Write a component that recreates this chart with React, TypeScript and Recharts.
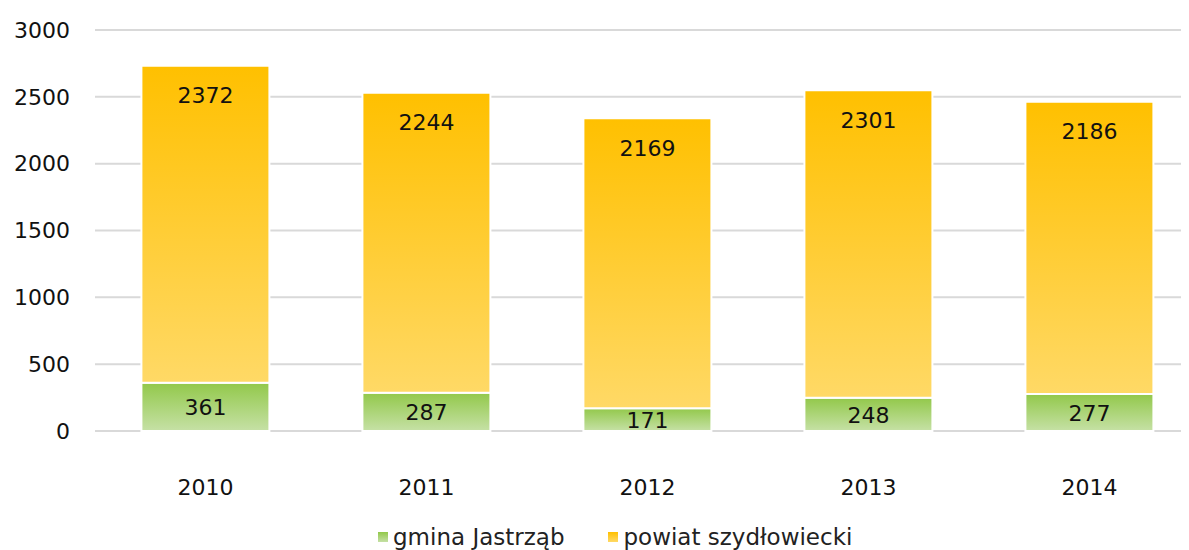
import React from "react";
import { BarChart, Bar, XAxis, YAxis, CartesianGrid, Legend, LabelList } from "recharts";

const years = ["2010", "2011", "2012", "2013", "2014"];
const gmina = [361, 287, 171, 248, 277];
const powiat = [2372, 2244, 2169, 2301, 2186];
const yTicks = [0, 500, 1000, 1500, 2000, 2500, 3000];
const seriesNames = ["gmina Jastrząb", "powiat szydłowiecki"];

const data = years.map((y, i) => ({ year: y, gmina: gmina[i], powiat: powiat[i] }));

const FONT = "'DejaVu Sans', sans-serif";
const FS = 22;

const GreenLabel = (props: any) => {
  const { x, y, width, height, value } = props;
  return (
    <text x={x + width / 2} y={y + height / 2 + 1} textAnchor="middle" dominantBaseline="central" fontSize={FS} fontFamily={FONT} fill="#111">
      {value}
    </text>
  );
};

const OrangeLabel = (props: any) => {
  const { x, y, width, value } = props;
  return (
    <text x={x + width / 2} y={y + 30} textAnchor="middle" dominantBaseline="central" fontSize={FS} fontFamily={FONT} fill="#111">
      {value}
    </text>
  );
};

const LegendContent = () => (
  <div style={{ display: "flex", fontFamily: FONT, fontSize: 23, color: "#222", paddingLeft: 370, lineHeight: "26px" }}>
    <div style={{ display: "flex", alignItems: "center", marginRight: 44 }}>
      <span style={{ display: "inline-block", width: 10, height: 10, background: "linear-gradient(#92C84A,#C5E0A5)", marginRight: 5 }} />
      {seriesNames[0]}
    </div>
    <div style={{ display: "flex", alignItems: "center" }}>
      <span style={{ display: "inline-block", width: 10, height: 10, background: "linear-gradient(#FFC000,#FFD966)", marginRight: 5 }} />
      {seriesNames[1]}
    </div>
  </div>
);

export default function App() {
  return (
    <div style={{ width: 1181, height: 542, overflow: "hidden" }}>
      <BarChart width={1200} height={542} data={data} margin={{ top: 22, right: 8, bottom: 13, left: 0 }} barCategoryGap="21%">
        <defs>
          <linearGradient id="gGreen" x1="0" y1="0" x2="0" y2="1">
            <stop offset="0%" stopColor="#92C84A" />
            <stop offset="100%" stopColor="#C6E1A6" />
          </linearGradient>
          <linearGradient id="gOrange" x1="0" y1="0" x2="0" y2="1">
            <stop offset="0%" stopColor="#FFC000" />
            <stop offset="100%" stopColor="#FFD966" />
          </linearGradient>
        </defs>
        <CartesianGrid vertical={false} stroke="#D9D9D9" strokeWidth={2} />
        <XAxis dataKey="year" axisLine={false} tickLine={false} tickSize={0} tickMargin={48} height={80} tick={{ fontSize: FS, fontFamily: FONT, fill: "#111" }} />
        <YAxis domain={[0, 3000]} ticks={yTicks} axisLine={false} tickLine={false} tickSize={0} tickMargin={25} width={87} tick={{ fontSize: FS, fontFamily: FONT, fill: "#111" }} />
        <Legend verticalAlign="bottom" content={<LegendContent />} wrapperStyle={{ left: 0, bottom: 0 }} />
        <Bar dataKey="gmina" stackId="a" fill="url(#gGreen)" stroke="#fff" strokeWidth={2} isAnimationActive={false}>
          <LabelList dataKey="gmina" content={<GreenLabel />} />
        </Bar>
        <Bar dataKey="powiat" stackId="a" fill="url(#gOrange)" stroke="#fff" strokeWidth={2} isAnimationActive={false}>
          <LabelList dataKey="powiat" content={<OrangeLabel />} />
        </Bar>
      </BarChart>
    </div>
  );
}
